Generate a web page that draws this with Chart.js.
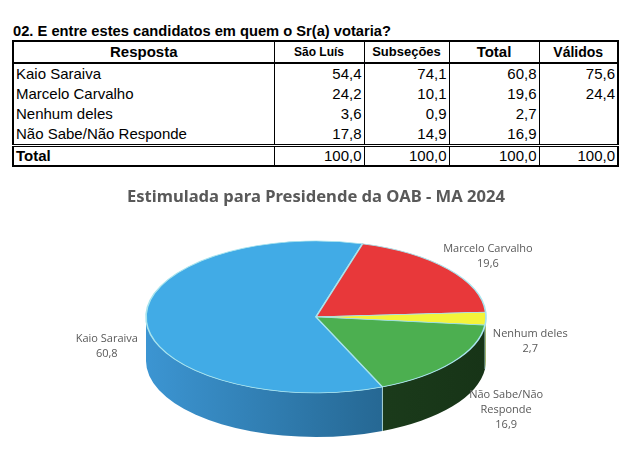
<!DOCTYPE html>
<html>
<head>
<meta charset="utf-8">
<script src="https://cdn.jsdelivr.net/npm/chart.js@4.4.1/dist/chart.umd.min.js"></script>
<style>
    body { margin: 0; width: 626px; height: 464px; background: #fff; position: relative; overflow: hidden; font-family: "Liberation Sans", Arial, sans-serif; color: #000; }
    #qTitle { position: absolute; left: 13px; top: 23px; font-weight: bold; font-size: 14.7px; line-height: 17px; }
    #resultTable { position: absolute; left: 12px; top: 40px; border-collapse: collapse; border: 2px solid #000; font-size: 15px; }
    #resultTable td, #resultTable th { border-left: 1px solid #000; border-right: 1px solid #000; padding: 0 2px; height: 20px; line-height: 20px; box-sizing: border-box; white-space: nowrap; }
    #resultTable th { font-weight: bold; text-align: center; border-bottom: 2px solid #000; }
    #resultTable td.num { text-align: right; }
    #resultTable tr.total td { border-top: 3px double #000; height: 19px; line-height: 18px; }
    #resultTable tr.total td:first-child { font-weight: bold; }
    #chartWrap { position: absolute; left: 0; top: 175px; width: 626px; height: 289px; }
</style>
</head>
<body>
<div id="qTitle">02. E entre estes candidatos em quem o Sr(a) votaria?</div>
<table id="resultTable">
    <thead><tr id="headRow"></tr></thead>
    <tbody id="tableBody"></tbody>
</table>
<div id="chartWrap"><canvas id="pieChart"></canvas></div>

<script>
const headers = ['Resposta', 'São Luís', 'Subseções', 'Total', 'Válidos'];
const categories = ['Kaio Saraiva', 'Marcelo Carvalho', 'Nenhum deles', 'Não Sabe/Não Responde'];
const saoLuis = [54.4, 24.2, 3.6, 17.8];
const subsecoes = [74.1, 10.1, 0.9, 14.9];
const totalGeral = [60.8, 19.6, 2.7, 16.9];
const validos = [75.6, 24.4, null, null];
const totalRow = ['Total', 100.0, 100.0, 100.0, 100.0];

const colWidths = [261, 90, 85, 90, 79];
// the sheet shrinks some header cells to fit
const headerSizes = [15, 12, 13, 15, 14];
const sliceColors = ['#41ABE6', '#E8383A', '#F4F43A', '#4CAF50'];
const sideColors = [['#3C95D2', '#1C5478'], ['#A82226', '#7A1518'], ['#B5B520', '#8A8A12'], ['#234A23', '#173417']];

function fmt(v) {
    return v === null ? '' : v.toFixed(1).replace('.', ',');
}

function buildTable() {
    const head = document.getElementById('headRow');
    headers.forEach((h, i) => {
        const th = document.createElement('th');
        th.textContent = h;
        th.style.width = colWidths[i] + 'px';
        th.style.fontSize = headerSizes[i] + 'px';
        head.appendChild(th);
    });

    const tbody = document.getElementById('tableBody');
    categories.forEach((c, i) => {
        const row = document.createElement('tr');
        row.innerHTML = `<td>${c}</td>
            <td class="num">${fmt(saoLuis[i])}</td>
            <td class="num">${fmt(subsecoes[i])}</td>
            <td class="num">${fmt(totalGeral[i])}</td>
            <td class="num">${fmt(validos[i])}</td>`;
        tbody.appendChild(row);
    });

    const tr = document.createElement('tr');
    tr.className = 'total';
    totalRow.forEach((v, i) => {
        const td = document.createElement('td');
        td.textContent = i === 0 ? v : fmt(v);
        if (i > 0) td.className = 'num';
        tr.appendChild(td);
    });
    tbody.appendChild(tr);
}

// look of the 3D pie
const RX = 170;
const RY = 76;
const DEPTH = 44;

function wrapText(ctx, text, maxWidth) {
    const words = text.split(' ');
    const lines = [];
    let line = '';
    words.forEach(w => {
        const test = line ? line + ' ' + w : w;
        if (ctx.measureText(test).width > maxWidth && line) {
            lines.push(line);
            line = w;
        } else {
            line = test;
        }
    });
    lines.push(line);
    return lines;
}

const pie3d = {
    id: 'pie3d',
    beforeDatasetsDraw(chart) {
        const meta = chart.getDatasetMeta(0);
        const first = meta.data[0];
        const cx = first.x, cy = first.y, r = first.outerRadius;
        const ctx = chart.ctx;

        // front walls
        meta.data.forEach((arc, i) => {
            const a = arc.startAngle, b = arc.endAngle;
            for (let k = -1; k <= 2; k++) {
                const lo = Math.max(a, 2 * Math.PI * k);
                const hi = Math.min(b, 2 * Math.PI * k + Math.PI);
                if (hi <= lo) continue;
                const grad = ctx.createLinearGradient(cx - RX, 0, cx + RX, 0);
                grad.addColorStop(0, sideColors[i][0]);
                grad.addColorStop(1, sideColors[i][1]);
                ctx.beginPath();
                ctx.ellipse(cx, cy, RX, RY, 0, lo, hi, false);
                ctx.ellipse(cx, cy + DEPTH, RX, RY, 0, hi, lo, true);
                ctx.closePath();
                ctx.fillStyle = grad;
                ctx.fill();
            }
        });

        // edges between walls
        ctx.save();
        ctx.strokeStyle = 'rgba(190, 235, 245, 0.8)';
        ctx.lineWidth = 1;
        meta.data.forEach(arc => {
            const t = arc.startAngle;
            if (Math.sin(t) > 0) {
                const x = cx + RX * Math.cos(t);
                const y = cy + RY * Math.sin(t);
                ctx.beginPath();
                ctx.moveTo(x, y);
                ctx.lineTo(x, y + DEPTH);
                ctx.stroke();
            }
        });
        ctx.restore();

        ctx.save();
        ctx.translate(cx, cy);
        ctx.scale(RX / r, RY / r);
        ctx.translate(-cx, -cy);
    },
    afterDatasetsDraw(chart) {
        const ctx = chart.ctx;
        ctx.restore();

        const meta = chart.getDatasetMeta(0);
        const values = chart.data.datasets[0].data;
        ctx.save();
        ctx.font = '11px "Open Sans", "Noto Sans", sans-serif';
        ctx.fillStyle = '#595959';
        ctx.textAlign = 'center';
        ctx.textBaseline = 'middle';
        const lh = 15;
        meta.data.forEach((arc, i) => {
            const mid = (arc.startAngle + arc.endAngle) / 2;
            const cos = Math.cos(mid), sin = Math.sin(mid);
            const lines = wrapText(ctx, chart.data.labels[i], 95);
            lines.push(fmt(values[i]));
            const hw = Math.max(...lines.map(l => ctx.measureText(l).width)) / 2;
            const hh = lines.length * lh / 2;
            // box sits just outside the rim, lower labels clear the wall
            const x = arc.x + (RX + 6 + 40 * Math.max(0, sin)) * cos + hw * cos;
            let y = arc.y + (RY + 6) * sin;
            y += sin > 0 ? DEPTH * Math.min(1, 0.5 + sin) : hh * sin;
            const top = y - (lines.length - 1) * lh / 2;
            lines.forEach((l, j) => ctx.fillText(l, x, top + j * lh));
        });
        ctx.restore();
    }
};

function buildChart() {
    const ctx = document.getElementById('pieChart').getContext('2d');
    new Chart(ctx, {
        type: 'pie',
        data: {
            labels: categories,
            datasets: [{
                data: totalGeral,
                backgroundColor: sliceColors,
                borderColor: '#A8E4EE',
                borderWidth: 1,
                clip: false
            }]
        },
        options: {
            responsive: true,
            maintainAspectRatio: false,
            animation: false,
            events: [],
            rotation: 157,
            layout: { padding: { left: 6, right: 0, top: 0, bottom: 45 } },
            plugins: {
                legend: { display: false },
                tooltip: { enabled: false },
                title: {
                    display: true,
                    text: 'Estimulada para Presidende da OAB - MA 2024',
                    color: '#595959',
                    font: { family: '"Noto Sans", "Open Sans", sans-serif', size: 16.6, weight: 'bold' },
                    padding: { top: 12, bottom: 8 }
                }
            }
        },
        plugins: [pie3d]
    });
}

document.addEventListener('DOMContentLoaded', function() {
    buildTable();
    buildChart();
});
</script>
</body>
</html>
